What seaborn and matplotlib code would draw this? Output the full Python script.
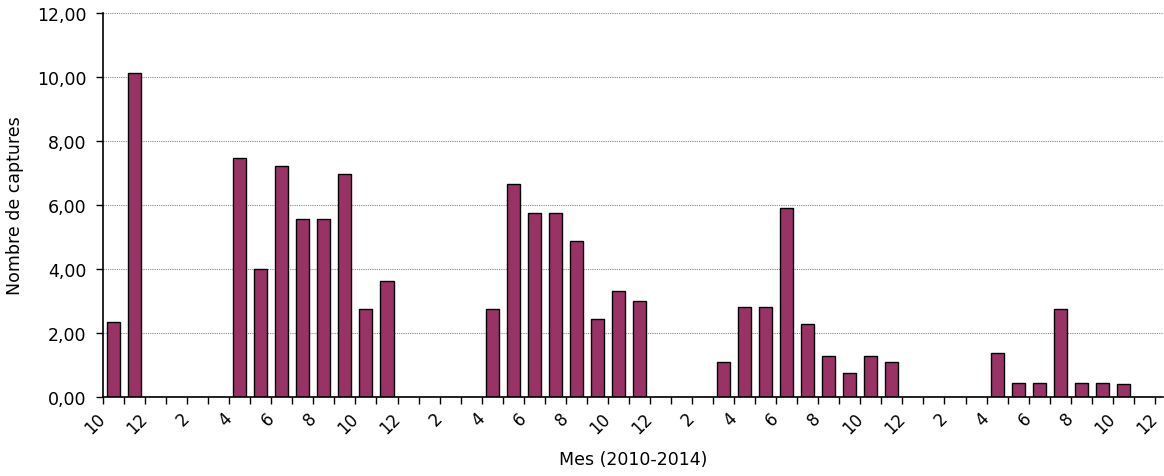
import pandas as pd
import numpy as np
import matplotlib
matplotlib.use('Agg')
import matplotlib.pyplot as plt
from matplotlib.ticker import FuncFormatter
import seaborn as sns

# captures mensuals, oct 2010 - nov 2014 (mesos buits = 0)
mesos = [str(p) for p in pd.period_range('2010-10', periods=50, freq='M')]
captures = [2.33, 10.13, 0, 0, 0, 0, 7.48, 4.00, 7.22, 5.55, 5.55, 6.96, 2.75, 3.63,
            0, 0, 0, 0, 2.75, 6.65, 5.76, 5.76, 4.87, 2.43, 3.32, 3.00,
            0, 0, 0, 1.08, 2.80, 2.80, 5.92, 2.28, 1.28, 0.76, 1.28, 1.08,
            0, 0, 0, 0, 1.39, 0.45, 0.45, 2.75, 0.45, 0.45, 0.40, 0]
etiquetes = ['10', '12', '2', '4', '6', '8', '10', '12', '2', '4', '6', '8', '10', '12',
             '2', '4', '6', '8', '10', '12', '2', '4', '6', '8', '10', '12']

df = pd.DataFrame({'mes': mesos, 'captures': captures})

sns.set_style('white')
plt.rcParams['font.family'] = ['DejaVu Sans']
plt.rcParams['text.color'] = 'black'
plt.rcParams['axes.labelcolor'] = 'black'
plt.rcParams['xtick.color'] = 'black'
plt.rcParams['ytick.color'] = 'black'

fig = plt.figure(figsize=(11.64, 4.77), dpi=100)
ax = fig.add_axes([0.0885, 0.1656, 0.9105, 0.805])

sns.barplot(data=df, x='mes', y='captures', order=mesos, color='#993366',
            edgecolor='black', linewidth=1.0, width=0.62, saturation=1, ax=ax)

# eix x: marques entre mesos, etiqueta cada dos mesos
ax.set_xlim(-0.5, 49.88)
ax.set_xticks(np.arange(-0.5, 50, 1), minor=True)
ax.set_xticks(np.arange(-0.5, 50, 2))
ax.set_xticklabels(etiquetes, rotation=45, ha='right', va='center',
                   rotation_mode='anchor', fontsize=12)
ax.tick_params(axis='x', which='both', direction='out', length=5, width=1,
               color='black', bottom=True, pad=8)

ax.set_ylim(0, 12)
ax.set_yticks(np.arange(0, 12.1, 2))
ax.yaxis.set_major_formatter(FuncFormatter(lambda v, p: f'{v:.2f}'.replace('.', ',')))
ax.tick_params(axis='y', direction='out', length=5, width=1, color='black',
               left=True, labelsize=12.5, pad=7)

ax.yaxis.grid(True, color='#8a8a8a', linestyle=(0, (1, 1)), linewidth=0.8)
ax.set_axisbelow(True)
for s in ['top', 'right']:
    ax.spines[s].set_visible(False)
for s in ['left', 'bottom']:
    ax.spines[s].set_color('black')
    ax.spines[s].set_linewidth(1.2)

ax.set_xlabel('Mes (2010-2014)', fontsize=12.5, labelpad=10)
ax.set_ylabel('Nombre de captures', fontsize=12.5, labelpad=9)

plt.savefig('out.png', dpi=100)
